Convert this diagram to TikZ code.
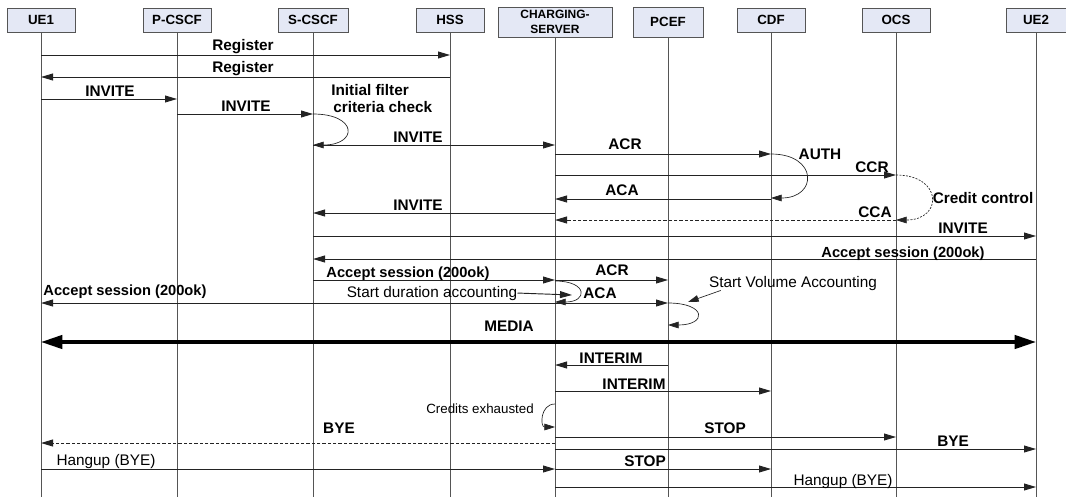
\documentclass[tikz,border=0pt]{standalone}
\usepackage{fontspec}
\setmainfont{Liberation Sans}
\usetikzlibrary{arrows.meta}
\definecolor{boxfill}{RGB}{228,232,245}
\definecolor{linegray}{RGB}{85,85,85}
\definecolor{msggray}{RGB}{35,35,35}
\begin{document}
\begin{tikzpicture}[x=0.75pt,y=-0.75pt,
  box/.style={draw=linegray,fill=boxfill,inner sep=0pt,minimum width=51pt,minimum height=18pt,font=\fontsize{10}{11}\selectfont\bfseries},
  life/.style={draw=linegray,line width=0.7pt},
  msg/.style={draw=msggray,line width=0.7pt,-{Triangle[length=9pt,width=5.2pt]}},
  dsh/.style={dash pattern=on 2.5pt off 1.5pt},
  loopy/.style={draw=msggray,line width=0.5pt,-{Triangle[length=8pt,width=5pt]}},
  lbl/.style={inner sep=0pt,anchor=base,font=\fontsize{11.5}{13}\selectfont\bfseries},
  acc/.style={lbl,font=\fontsize{11}{13}\selectfont\bfseries},
  txt/.style={inner sep=0pt,anchor=base,font=\fontsize{11.5}{13}\selectfont}]
  \useasboundingbox (0,0) rectangle (1066,497);
  \path (41,20) node[box] (ue1) {UE1} (177,20) node[box] (pcscf) {P-CSCF}
  (313,20) node[box,minimum width=52.5pt] (scscf) {S-CSCF} (450,20) node[box] (hss) {HSS}
  (555,22) node[box,minimum width=85.5pt,minimum height=22.5pt,align=center,font=\fontsize{9}{11}\selectfont\bfseries] (cs) {CHARGING-\\SERVER}
  (668,22) node[box,minimum width=52.5pt,minimum height=22.5pt] (pcef) {PCEF}
  (771,20) node[box] (cdf) {CDF} (896,20) node[box] (ocs) {OCS} (1036,20) node[box,minimum width=45pt] (ue2) {UE2};
  \foreach \n in {ue1,pcscf,scscf,hss,cs,pcef,cdf,ocs,ue2} \draw[life] (\n) -- (\n |- 0,497);
  \draw[msg] (ue1 |- 0,55) -- (hss |- 0,55);
  \node[lbl] (m1) at (243,50) {Register};
  \draw[msg] (hss |- 0,77) -- (ue1 |- 0,77);
  \node[lbl] (m2) at (243,72) {Register};
  \draw[msg] (ue1 |- 0,99) -- (pcscf |- 0,99);
  \node[lbl] (m3) at (110,96) {INVITE};
  \draw[msg] (pcscf |- 0,114) -- (scscf |- 0,114);
  \node[lbl] (m4) at (246,111) {INVITE};
  \draw[loopy] (scscf |- 0,114) .. controls +(45,0) and +(45,0) .. (scscf |- 0,145);
  \node[lbl,anchor=base west] (m5a) at (331,95) {Initial filter};
  \node[lbl,anchor=base west] (m5b) at (333,112) {criteria check};
  \draw[msg] (scscf |- 0,145) -- (cs |- 0,145);
  \node[lbl] (m6) at (418,142) {INVITE};
  \draw[msg] (cs |- 0,154) -- (cdf |- 0,154);
  \node[lbl] (m7) at (625,149) {ACR};
  \draw[loopy] (cdf |- 0,154) .. controls +(47,0) and +(47,0) .. (cdf |- 0,198);
  \node[lbl] (m8) at (820,159) {AUTH};
  \draw[msg] (cs |- 0,175) -- (ocs |- 0,175);
  \node[lbl] (m9) at (872,172) {CCR};
  \draw[loopy,dash pattern=on 1.5pt off 1pt] (ocs |- 0,175) .. controls +(47,0) and +(47,0) .. (ocs |- 0,220);
  \node[lbl] (m10) at (983,203) {Credit control};
  \draw[msg] (cdf |- 0,199) -- (cs |- 0,199);
  \node[lbl] (m11) at (622,195) {ACA};
  \draw[msg] (cs |- 0,213) -- (scscf |- 0,213);
  \node[lbl] (m12) at (418,210) {INVITE};
  \draw[msg,dsh] (ocs |- 0,220) -- (cs |- 0,220);
  \node[lbl] (m13) at (875,217) {CCA};
  \draw[msg] (scscf |- 0,236) -- (ue2 |- 0,236);
  \node[lbl] (m14) at (963,233) {INVITE};
  \draw[msg] (ue2 |- 0,259) -- (scscf |- 0,259);
  \node[acc] (m15) at (903,257) {Accept session (200ok)};
  \draw[msg] (scscf |- 0,280) -- (cs |- 0,280);
  \node[acc] (m16) at (408,277) {Accept session (200ok)};
  \draw[msg] (cs |- 0,280) -- (pcef |- 0,280);
  \node[lbl] (m17) at (612,275) {ACR};
  \draw[loopy] (cs |- 0,281) .. controls +(33,0) and +(33,0) .. (cs |- 0,302);
  \node[txt] (m18) at (432,297) {Start duration accounting};
  \coordinate (sda) at (572,295);
  \draw[msg] (m18.east) -- (sda);
  \draw[msg] (cs |- 0,303) -- (ue1 |- 0,303);
  \node[acc] (m19) at (125,295) {Accept session (200ok)};
  \draw[msg] (cs |- 0,303) -- (pcef |- 0,303);
  \node[lbl] (m20) at (600,298) {ACA};
  \draw[loopy] (pcef |- 0,303) .. controls +(39,0) and +(39,0) .. (pcef |- 0,325);
  \node[txt] (m21) at (793,287) {Start Volume Accounting};
  \coordinate (sva) at (688,302);
  \draw[loopy] ([xshift=9pt]m21.south west) -- (sva);
  \draw[line width=2.5pt,draw=black,{Triangle[length=16pt,width=10pt]}-{Triangle[length=16pt,width=10pt]}] (ue1 |- 0,342) -- (ue2 |- 0,342);
  \node[lbl] (m22) at (509,331) {MEDIA};
  \draw[msg] (pcef |- 0,365) -- (cs |- 0,365);
  \node[lbl] (m23) at (611,363) {INTERIM};
  \draw[msg] (cs |- 0,391) -- (cdf |- 0,391);
  \node[lbl] (m24) at (634,389) {INTERIM};
  \draw[loopy] (cs |- 0,404) .. controls +(-15,0) and +(-15,0) .. (cs |- 0,427);
  \node[txt,font=\fontsize{10}{12}\selectfont] (m25) at (480,413) {Credits exhausted};
  \draw[msg,dsh] (cs |- 0,443) -- (ue1 |- 0,443);
  \node[lbl] (m26) at (339,433) {BYE};
  \draw[msg] (cs |- 0,437) -- (ocs |- 0,437);
  \node[lbl] (m27) at (725,433) {STOP};
  \draw[msg] (cs |- 0,449) -- (ue2 |- 0,449);
  \node[lbl] (m28) at (953,446) {BYE};
  \draw[msg] (ue1 |- 0,469) -- (cs |- 0,469);
  \node[txt] (m29) at (106,465) {Hangup (BYE)};
  \draw[msg] (cs |- 0,469) -- (cdf |- 0,469);
  \node[lbl] (m30) at (645,466) {STOP};
  \draw[msg] (cs |- 0,487) -- (ue2 |- 0,487);
  \node[txt] (m31) at (843,485) {Hangup (BYE)};
\end{tikzpicture}
\end{document}
